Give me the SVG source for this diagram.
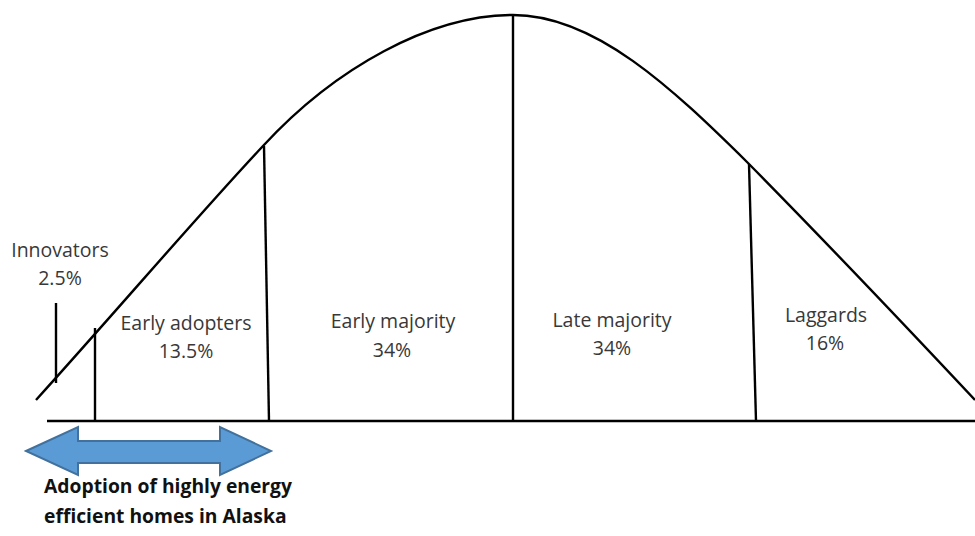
<svg xmlns="http://www.w3.org/2000/svg" width="975" height="536" viewBox="0 0 975 536">
<style>
.ln{fill:none;stroke:#000;stroke-width:2.4;stroke-linecap:butt}
.lbl{font-family:"Open Sans","Liberation Sans",sans-serif;font-size:19.5px;fill:#383838;text-anchor:middle}
.cap{font-family:"Open Sans","Liberation Sans",sans-serif;font-size:19.3px;font-weight:bold;fill:#111}
</style>
<rect width="975" height="536" fill="#fff"/>
<g id="connectors">
<path class="ln" d="M36,400 C120,307 200,213 263,146 C335,68 430,15 513,15 C595,15 672,88 748,163 C820,236 900,320 975,400"/>
<line class="ln" x1="47" y1="421" x2="975" y2="421"/>
<line class="ln" x1="56" y1="303" x2="56" y2="383"/>
<line class="ln" x1="95" y1="328" x2="95" y2="421"/>
<line class="ln" x1="264" y1="146" x2="269" y2="421"/>
<line class="ln" x1="513" y1="15" x2="513" y2="421"/>
<line class="ln" x1="749" y1="164" x2="756" y2="421"/>
</g>
<g id="innovators">
<text class="lbl" x="60" y="257">Innovators</text>
<text class="lbl" x="60" y="285">2.5%</text>
</g>
<g id="early-adopters">
<text class="lbl" x="186" y="330">Early adopters</text>
<text class="lbl" x="186" y="358">13.5%</text>
</g>
<g id="early-majority">
<text class="lbl" x="393" y="328">Early majority</text>
<text class="lbl" x="392" y="357">34%</text>
</g>
<g id="late-majority">
<text class="lbl" x="612" y="327">Late majority</text>
<text class="lbl" x="612" y="355">34%</text>
</g>
<g id="laggards">
<text class="lbl" x="826" y="322">Laggards</text>
<text class="lbl" x="825" y="350">16%</text>
</g>
<g id="adoption-arrow">
<polygon points="26,451 78,427 78,441 220,441 220,427 271,451 220,475 220,463 78,463 78,475" fill="#5B9BD5" stroke="#41719C" stroke-width="2" stroke-linejoin="miter"/>
<text class="cap" x="44" y="493">Adoption of highly energy</text>
<text class="cap" x="44" y="523">efficient homes in Alaska</text>
</g>
</svg>
